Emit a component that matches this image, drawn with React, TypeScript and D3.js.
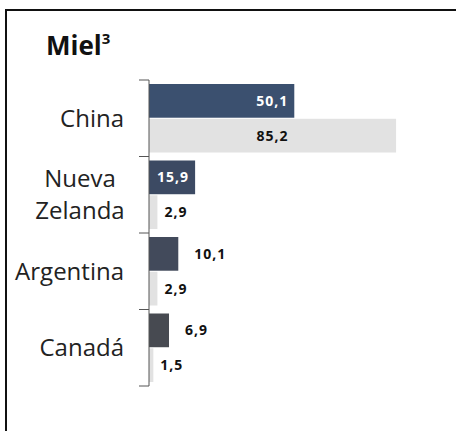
import React from "react";
import * as d3 from "d3";

const categories = ["China", "Nueva Zelanda", "Argentina", "Canadá"];
const seriesA = [50.1, 15.9, 10.1, 6.9];
const seriesB = [85.2, 2.9, 2.9, 1.5];
const darkColors = ["#3b506f", "#3c4a63", "#424a5b", "#474a51"];

const W = 456;
const H = 431;
const fmt = (v: number) => v.toFixed(1).replace(".", ",");

export default function App() {
  const x = d3.scaleLinear().domain([0, 100]).range([149, 439]);
  const y = d3.scaleBand<string>().domain(categories).range([80, 386]);
  const sub = d3
    .scaleBand<string>()
    .domain(["a", "b"])
    .range([4, y.bandwidth() - 4])
    .paddingInner(0.03);

  const font = "'Open Sans', 'DejaVu Sans', sans-serif";

  return (
    <svg
      width={W}
      height={H}
      style={{ position: "absolute", left: 0, top: 0, background: "#fff" }}
      fontFamily={font}
    >
      {/* frame */}
      <rect x={6} y={10} width={W + 20} height={H + 20} fill="#fff" stroke="#111" strokeWidth={2} />

      {/* title */}
      <text x={46} y={55} fontSize={26} fontWeight="bold" fill="#111">
        Miel
        <tspan fontSize={15} dy={-11}>3</tspan>
      </text>

      {/* bars */}
      {categories.map((c, i) => {
        const y0 = y(c)!;
        const ya = y0 + sub("a")!;
        const yb = y0 + sub("b")!;
        const h = sub.bandwidth();
        const va = seriesA[i];
        const vb = seriesB[i];
        const insideA = x(va) - x(0) > 40;
        const wideB = x(vb) - x(0) > 40;
        return (
          <g key={c}>
            <rect x={x(0)} y={yb} width={x(vb) - x(0)} height={h} fill="#e2e2e2" />
            <rect x={x(0)} y={ya} width={x(va) - x(0)} height={h} fill={darkColors[i]} />
            <text
              x={insideA ? x(va) - 6 : x(va) + 16}
              y={ya + h / 2}
              dy="0.35em"
              textAnchor={insideA ? "end" : "start"}
              fontSize={14}
              fontWeight="bold"
              letterSpacing={1}
              fill={insideA ? "#fff" : "#111"}
            >
              {fmt(va)}
            </text>
            <text
              x={wideB ? (x(0) + x(vb)) / 2 : x(vb) + 7}
              y={yb + h / 2}
              dy="0.35em"
              textAnchor={wideB ? "middle" : "start"}
              fontSize={14}
              fontWeight="bold"
              letterSpacing={1}
              fill="#111"
            >
              {fmt(vb)}
            </text>
          </g>
        );
      })}

      {/* axis */}
      <line x1={149} x2={149} y1={y.range()[0]} y2={y.range()[1]} stroke="#555" strokeWidth={1} />
      {[...categories.map((c) => y(c)!), y.range()[1]].map((t, i) => (
        <line key={i} x1={139} x2={149} y1={t} y2={t} stroke="#555" strokeWidth={1} />
      ))}

      {/* category labels */}
      {categories.map((c) => {
        const words = c === "Nueva Zelanda" ? ["Nueva", "Zelanda"] : [c];
        const cy = y(c)! + y.bandwidth() / 2;
        const lh = 32;
        const w0 = cy - ((words.length - 1) * lh) / 2;
        const lx = words.length > 1 ? 80 : 124;
        return (
          <text
            key={c}
            textAnchor={words.length > 1 ? "middle" : "end"}
            fontSize={24}
            fill="#222"
          >
            {words.map((w, k) => (
              <tspan key={k} x={lx} y={w0 + k * lh} dy="0.36em">
                {w}
              </tspan>
            ))}
          </text>
        );
      })}
    </svg>
  );
}
